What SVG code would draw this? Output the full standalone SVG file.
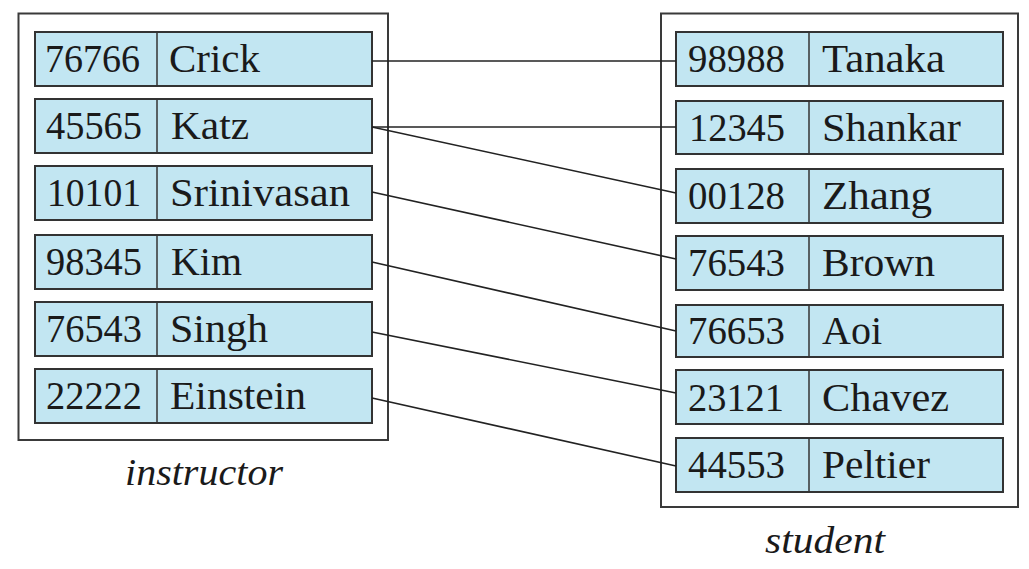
<svg xmlns="http://www.w3.org/2000/svg" width="1029" height="569" viewBox="0 0 1029 569">
<style>
.outer{fill:#fff;stroke:#3a3a3a;stroke-width:2}
.row{fill:#c2e6f2;stroke:#333;stroke-width:2}
.div{stroke:#333;stroke-width:1.5}
.t{font-family:"Liberation Serif","Times New Roman",serif;font-size:40px;fill:#1a1a1a}
.lbl{font-family:"Liberation Serif","Times New Roman",serif;font-style:italic;font-size:38px;fill:#1a1a1a}
.conn line{stroke:#222;stroke-width:1.6}
</style>
<rect width="1029" height="569" fill="#fff"/>
<g id="instructor">
<rect class="outer" x="18.5" y="13.5" width="369.5" height="426.5"/>
<text class="lbl" x="125" y="485" textLength="158" lengthAdjust="spacingAndGlyphs">instructor</text>
</g>
<g id="student">
<rect class="outer" x="661" y="13.5" width="357" height="493.5"/>
<text class="lbl" x="765" y="553" textLength="120" lengthAdjust="spacingAndGlyphs">student</text>
</g>
<g id="i-76766"><rect class="row" x="35" y="32" width="337" height="54"/><line class="div" x1="157" y1="32" x2="157" y2="86"/><text class="t" x="45" y="72" textLength="95" lengthAdjust="spacingAndGlyphs">76766</text><text class="t" x="169" y="72" textLength="91" lengthAdjust="spacingAndGlyphs">Crick</text></g>
<g id="i-45565"><rect class="row" x="35" y="99" width="337" height="54"/><line class="div" x1="157" y1="99" x2="157" y2="153"/><text class="t" x="46" y="139" textLength="96" lengthAdjust="spacingAndGlyphs">45565</text><text class="t" x="171" y="139" textLength="78" lengthAdjust="spacingAndGlyphs">Katz</text></g>
<g id="i-10101"><rect class="row" x="35" y="166" width="337" height="54"/><line class="div" x1="157" y1="166" x2="157" y2="220"/><text class="t" x="47" y="206" textLength="94" lengthAdjust="spacingAndGlyphs">10101</text><text class="t" x="170" y="206" textLength="180" lengthAdjust="spacingAndGlyphs">Srinivasan</text></g>
<g id="i-98345"><rect class="row" x="35" y="235" width="337" height="54"/><line class="div" x1="157" y1="235" x2="157" y2="289"/><text class="t" x="46" y="275" textLength="96" lengthAdjust="spacingAndGlyphs">98345</text><text class="t" x="171" y="275" textLength="71" lengthAdjust="spacingAndGlyphs">Kim</text></g>
<g id="i-76543"><rect class="row" x="35" y="302" width="337" height="54"/><line class="div" x1="157" y1="302" x2="157" y2="356"/><text class="t" x="46" y="342" textLength="96" lengthAdjust="spacingAndGlyphs">76543</text><text class="t" x="170" y="342" textLength="98" lengthAdjust="spacingAndGlyphs">Singh</text></g>
<g id="i-22222"><rect class="row" x="35" y="369" width="337" height="54"/><line class="div" x1="157" y1="369" x2="157" y2="423"/><text class="t" x="46" y="409" textLength="96" lengthAdjust="spacingAndGlyphs">22222</text><text class="t" x="170" y="409" textLength="136" lengthAdjust="spacingAndGlyphs">Einstein</text></g>
<g id="s-98988"><rect class="row" x="676" y="32" width="327" height="54"/><line class="div" x1="809" y1="32" x2="809" y2="86"/><text class="t" x="688" y="72" textLength="97" lengthAdjust="spacingAndGlyphs">98988</text><text class="t" x="822" y="72" textLength="123" lengthAdjust="spacingAndGlyphs">Tanaka</text></g>
<g id="s-12345"><rect class="row" x="676" y="101" width="327" height="53"/><line class="div" x1="809" y1="101" x2="809" y2="154"/><text class="t" x="689" y="141" textLength="96" lengthAdjust="spacingAndGlyphs">12345</text><text class="t" x="822" y="141" textLength="139" lengthAdjust="spacingAndGlyphs">Shankar</text></g>
<g id="s-00128"><rect class="row" x="676" y="169" width="327" height="54"/><line class="div" x1="809" y1="169" x2="809" y2="223"/><text class="t" x="688" y="209" textLength="97" lengthAdjust="spacingAndGlyphs">00128</text><text class="t" x="822" y="209" textLength="110" lengthAdjust="spacingAndGlyphs">Zhang</text></g>
<g id="s-76543"><rect class="row" x="676" y="236" width="327" height="54"/><line class="div" x1="809" y1="236" x2="809" y2="290"/><text class="t" x="688" y="276" textLength="97" lengthAdjust="spacingAndGlyphs">76543</text><text class="t" x="822" y="276" textLength="113" lengthAdjust="spacingAndGlyphs">Brown</text></g>
<g id="s-76653"><rect class="row" x="676" y="305" width="327" height="52"/><line class="div" x1="809" y1="305" x2="809" y2="357"/><text class="t" x="688" y="344" textLength="97" lengthAdjust="spacingAndGlyphs">76653</text><text class="t" x="822" y="344" textLength="60" lengthAdjust="spacingAndGlyphs">Aoi</text></g>
<g id="s-23121"><rect class="row" x="676" y="370" width="327" height="54"/><line class="div" x1="809" y1="370" x2="809" y2="424"/><text class="t" x="688" y="411" textLength="96" lengthAdjust="spacingAndGlyphs">23121</text><text class="t" x="822" y="411" textLength="127" lengthAdjust="spacingAndGlyphs">Chavez</text></g>
<g id="s-44553"><rect class="row" x="676" y="438" width="327" height="54"/><line class="div" x1="809" y1="438" x2="809" y2="492"/><text class="t" x="688" y="478" textLength="97" lengthAdjust="spacingAndGlyphs">44553</text><text class="t" x="822" y="478" textLength="108" lengthAdjust="spacingAndGlyphs">Peltier</text></g>
<g id="connectors" class="conn">
<line x1="372" y1="61" x2="676" y2="61"/>
<line x1="372" y1="127" x2="676" y2="127"/>
<line x1="372" y1="127" x2="676" y2="193"/>
<line x1="372" y1="192" x2="676" y2="259"/>
<line x1="372" y1="262" x2="676" y2="331"/>
<line x1="372" y1="332" x2="676" y2="393"/>
<line x1="372" y1="398" x2="676" y2="466"/>
</g>
</svg>
